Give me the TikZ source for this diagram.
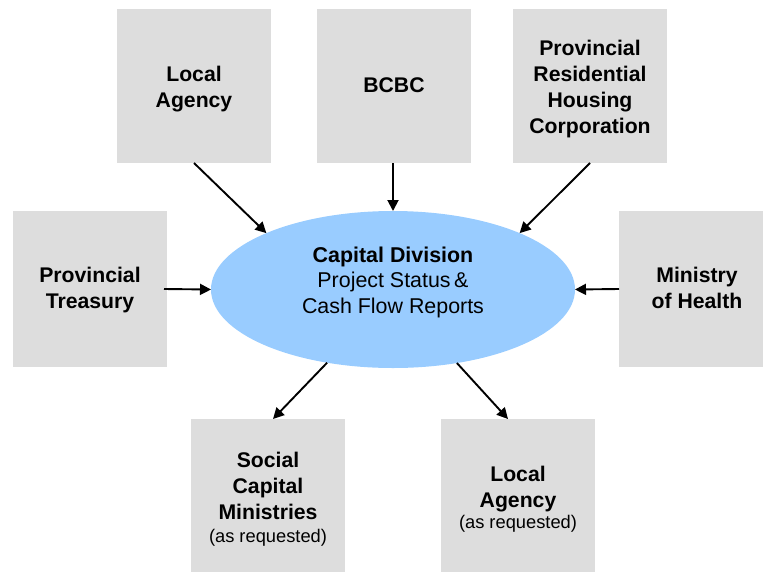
\documentclass[tikz,border=0pt]{standalone}
\usepackage{fontspec}
\setmainfont{Liberation Sans}
\usetikzlibrary{shapes.geometric,arrows.meta,calc}
\definecolor{boxgray}{HTML}{DDDDDD}
\definecolor{ellblue}{HTML}{99CCFF}
\begin{document}
\begin{tikzpicture}[x=1pt,y=-1pt,
  box/.style={rectangle, fill=boxgray, minimum width=154pt, minimum height=154pt, inner sep=0pt, outer sep=0pt},
  lbl/.style={align=center, inner sep=0pt, font=\fontsize{21.2}{26}\selectfont\bfseries},
  arr/.style={line width=1.9pt, -{Triangle[length=11pt,width=11pt]}}]
\useasboundingbox (0,0) rectangle (763,571);
\begin{scope}
\clip (0,0) rectangle (763,571);
% boxes
\node[box] (la) at (194,86) {};
\node[box] (bcbc) at (394,86) {};
\node[box] (prhc) at (590,86) {};
\node[box, minimum height=156pt] (pt) at (90,289) {};
\node[box, minimum height=156pt] (moh) at (696,289) {};
\node[box] (scm) at (268,496) {};
\node[box] (lab) at (518,496) {};
% ellipse
\node[ellipse, fill=ellblue, minimum width=364pt, minimum height=157pt, inner sep=0pt, outer sep=0pt] (cap) at (393,289.5) {};
\end{scope}
% labels
\node[lbl] (tla) at (194,88.8) {Local\\Agency};
\node[lbl] (tbcbc) at (394,85) {BCBC};
\node[lbl] (tprhc) at (590,88.8) {Provincial\\Residential\\Housing\\Corporation};
\node[lbl] (tpt) at (90,290) {Provincial\\Treasury};
\node[lbl] (tmoh) at (697,288) {Ministry\\of Health};
\node[align=center, inner sep=0pt, font=\fontsize{21.4}{25.5}\selectfont] (tcap) at (393,282)
  {\textbf{Capital Division}\\Project Status\,\&\\Cash Flow Reports};
\node[lbl] (tscm) at (268,498.9) {Social\\Capital\\Ministries\\[-3pt]{\fontsize{18.3}{23}\selectfont\mdseries (as requested)}};
\node[lbl] (tlab) at (518,499.2) {Local\\Agency\\[-5pt]{\fontsize{18.3}{23}\selectfont\mdseries (as requested)}};
% connectors
\draw[arr] (la.south) -- (cap.156);
\draw[arr] ([xshift=-1pt]bcbc.south) -- (cap.90);
\draw[arr] (prhc.south) -- (cap.24.7);
\draw[arr] ([xshift=-3pt]pt.east) -- (cap.180);
\draw[arr] (moh.west) -- (cap.0);
\draw[arr] (cap.228) -- ([xshift=5pt]scm.north);
\draw[arr] (cap.311) -- ([xshift=-10pt]lab.north);
\end{tikzpicture}
\end{document}
